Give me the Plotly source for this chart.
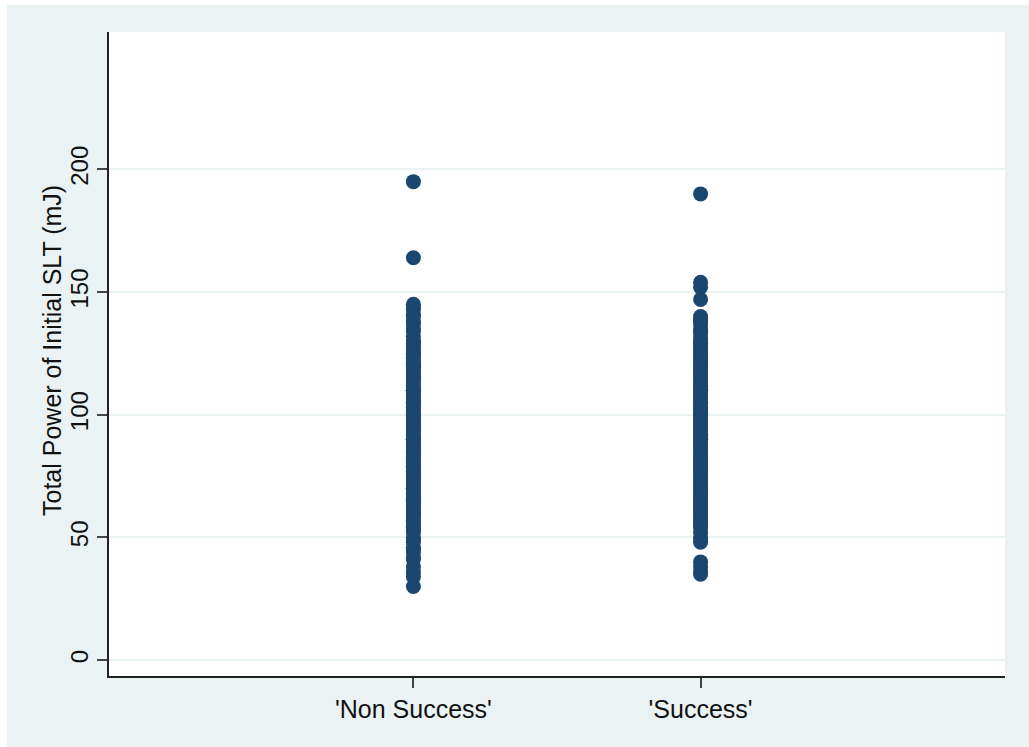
import plotly.graph_objects as go

# Outcome groups and their tick labels
groups = ["Non Success", "Success"]
group_labels = ["'Non Success'", "'Success'"]

# Total power of the initial SLT session (mJ), per eye, by outcome
power_non_success = [
    195, 164, 145, 144, 143, 141, 140, 138, 137, 135, 134, 132, 130, 130, 129,
    128, 127, 126, 125, 125, 124, 123, 122, 121, 120, 120, 120, 119, 118, 117,
    116, 115, 115, 114, 113, 112, 111, 110, 110, 110, 109, 108, 107, 106, 105,
    105, 104, 103, 102, 101, 100, 100, 100, 99, 98, 97, 96, 95, 95, 94, 93, 92,
    91, 90, 90, 90, 89, 88, 87, 86, 85, 85, 84, 83, 82, 81, 80, 80, 79, 78, 77,
    76, 75, 75, 74, 73, 72, 71, 70, 70, 69, 68, 67, 66, 65, 65, 64, 63, 62, 61,
    60, 60, 59, 58, 57, 56, 55, 54, 53, 52, 50, 49, 48, 46, 45, 44, 42, 41, 38,
    36, 34, 30,
]
power_success = [
    190, 154, 152, 147, 140, 139, 138, 137, 135, 134, 133, 131, 130, 129, 128,
    127, 126, 125, 124, 123, 122, 121, 120, 120, 119, 118, 117, 116, 115, 114,
    113, 112, 111, 110, 110, 109, 108, 107, 106, 105, 105, 104, 103, 102, 101,
    100, 100, 99, 98, 97, 96, 95, 94, 93, 92, 91, 90, 90, 89, 88, 87, 86, 85,
    84, 83, 82, 81, 80, 80, 79, 78, 77, 76, 75, 74, 73, 72, 71, 70, 69, 68, 67,
    66, 65, 64, 63, 62, 61, 60, 59, 58, 57, 56, 55, 54, 52, 50, 49, 48, 40, 38,
    36, 35,
]

y_ticks = [0, 50, 100, 150, 200]
y_title = "Total Power of Initial SLT (mJ)"

NAVY = "#1a476f"
REGION = "#eaf2f3"
FONT = "Liberation Sans, Arial, sans-serif"
TXT = "#111111"

fig = go.Figure()
for pos, vals in enumerate([power_non_success, power_success]):
    fig.add_trace(go.Scatter(
        x=[pos] * len(vals),
        y=vals,
        mode="markers",
        marker=dict(size=15, color=NAVY, line=dict(width=0)),
        name=groups[pos],
        showlegend=False,
        hoverinfo="y",
    ))

fig.update_layout(
    width=1029,
    height=747,
    margin=dict(l=109, r=24, t=32, b=71),
    paper_bgcolor=REGION,
    plot_bgcolor="white",
    font=dict(family=FONT, size=25, color=TXT),
    shapes=[
        # thin white border strips around the graph region
        dict(type="rect", xref="paper", yref="paper", layer="below",
             xsizemode="pixel", ysizemode="pixel", xanchor=0, yanchor=0,
             x0=-120, x1=-102, y0=-100, y1=900,
             fillcolor="white", line=dict(width=0)),
        dict(type="rect", xref="paper", yref="paper", layer="below",
             xsizemode="pixel", ysizemode="pixel", xanchor=0, yanchor=1,
             x0=-120, x1=1100, y0=27, y1=60,
             fillcolor="white", line=dict(width=0)),
    ],
    annotations=[
        # rotated y-axis title
        dict(text=y_title, xref="paper", yref="paper", x=0, y=0.5,
             xanchor="center", yanchor="middle", xshift=-57, yshift=3,
             textangle=-90, showarrow=False,
             font=dict(size=25, family=FONT, color=TXT)),
    ],
)

fig.update_xaxes(
    range=[-1.06, 2.06],
    tickvals=[0, 1],
    ticktext=group_labels,
    ticks="outside",
    ticklen=10,
    tickwidth=1.5,
    tickcolor="#444444",
    showgrid=False,
    zeroline=False,
    showline=True,
    linecolor="#222222",
    linewidth=1.5,
    tickfont=dict(size=25, family=FONT, color=TXT),
)

fig.update_yaxes(
    range=[-6.5, 256],
    tickvals=y_ticks,
    ticktext=[str(v) for v in y_ticks],
    tickangle=-90,
    ticks="outside",
    ticklen=10,
    tickwidth=1.5,
    tickcolor="#444444",
    showgrid=True,
    gridcolor=REGION,
    gridwidth=1.5,
    zeroline=False,
    showline=True,
    linecolor="#222222",
    linewidth=1.5,
    tickfont=dict(size=24, family=FONT, color=TXT),
)

fig.write_html("out.html")
